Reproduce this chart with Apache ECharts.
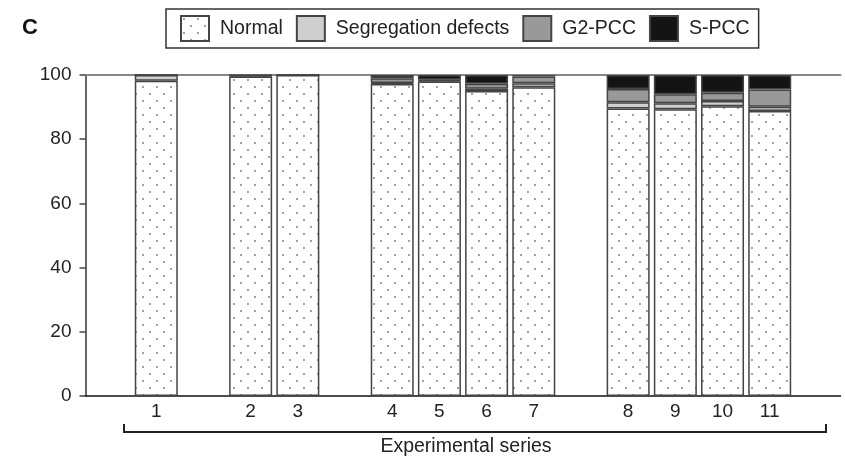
<!DOCTYPE html>
<html><head><meta charset="utf-8">
<script src="https://cdn.jsdelivr.net/npm/echarts@6/dist/echarts.min.js"></script>
<style>html,body{margin:0;padding:0;background:#fff}#c{width:845px;height:459px}</style>
</head><body><div id="c"></div>
<script>
var categories = ['', '1', '', '2', '3', '', '4', '5', '6', '7', '', '8', '9', '10', '11', ''];
var normal = [null, 98.2, null, 99.5, 100, null, 97.2, 98.0, 95.0, 96.2, null, 89.6, 89.3, 90.3, 88.8, null];
var segregation = [null, 1.8, null, 0.3, 0, null, 0.3, 0.3, 0.7, 1.2, null, 1.9, 1.9, 1.6, 1.3, null];
var g2pcc = [null, 0, null, 0.1, 0, null, 1.5, 0.2, 1.6, 2.1, null, 4.1, 2.8, 2.6, 5.4, null];
var spcc = [null, 0, null, 0.1, 0, null, 1.0, 1.5, 2.7, 0.5, null, 4.4, 6.0, 5.5, 4.5, null];
var yTicks = [0, 20, 40, 60, 80, 100];

var pc = document.createElement('canvas');
pc.width = 14; pc.height = 14;
var ctx = pc.getContext('2d');
ctx.fillStyle = '#fff'; ctx.fillRect(0, 0, 14, 14);
ctx.fillStyle = '#777';
ctx.beginPath(); ctx.arc(3, 3, 0.9, 0, Math.PI * 2); ctx.fill();
ctx.beginPath(); ctx.arc(10, 10, 0.9, 0, Math.PI * 2); ctx.fill();
var dotPattern = { image: pc, repeat: 'repeat' };

var chart = echarts.init(document.getElementById('c'), null, { renderer: 'canvas' });
var font = 'Liberation Sans, Arial, Helvetica, sans-serif';
function mk(name, data, color) {
  return {
    name: name, type: 'bar', stack: 'all', data: data,
    barWidth: 43,
    itemStyle: { color: color, borderColor: '#444', borderWidth: 1.5 },
    emphasis: { disabled: true },
    animation: false
  };
}
chart.setOption({
  animation: false,
  title: { text: 'C', left: 22, top: 17, padding: 0, textStyle: { fontFamily: font, fontSize: 22, fontWeight: 'bold', color: '#111' } },
  legend: {
    left: 166, top: 9,
    padding: [6, 9, 6, 14],
    borderColor: '#333', borderWidth: 1.5,
    itemWidth: 28, itemHeight: 25, itemGap: 13,
    icon: 'rect',
    textStyle: { fontFamily: font, fontSize: 19.5, color: '#222', padding: [0, 0, 0, 6] },
    data: ['Normal', 'Segregation defects', 'G2-PCC', 'S-PCC']
  },
  grid: { left: 85.5, right: 4.5, top: 75, bottom: 63, containLabel: false },
  xAxis: [{
    type: 'category', data: categories, position: 'bottom',
    axisLine: { lineStyle: { color: '#111', width: 1.5 } },
    axisTick: { show: false },
    axisLabel: { fontFamily: font, fontSize: 19, color: '#222', margin: 6 }
  }, {
    type: 'category', data: categories, position: 'top',
    axisLine: { show: true, lineStyle: { color: '#888', width: 2 } },
    axisTick: { show: false }, axisLabel: { show: false }
  }],
  yAxis: {
    type: 'value', min: 0, max: 100, interval: 20,
    axisLine: { show: true, lineStyle: { color: '#666', width: 2 } },
    axisTick: { show: true, length: 6, lineStyle: { color: '#444', width: 1.5 } },
    splitLine: { show: false },
    axisLabel: { fontFamily: font, fontSize: 19, color: '#222', margin: 14,
      formatter: function (v) { return yTicks.indexOf(v) >= 0 ? String(v) : ''; } }
  },
  graphic: [
    { type: 'polyline', shape: { points: [[124, 424], [124, 432], [826, 432], [826, 424]] },
      style: { stroke: '#222', lineWidth: 2, fill: null } },
    { type: 'text', x: 466, y: 447, style: { text: 'Experimental series', fontFamily: font, fontSize: 19.5, fill: '#222', align: 'center', verticalAlign: 'middle' } }
  ],
  series: [
    mk('Normal', normal, dotPattern),
    mk('Segregation defects', segregation, '#cfcfcf'),
    mk('G2-PCC', g2pcc, '#999999'),
    mk('S-PCC', spcc, '#141414')
  ]
});
</script></body></html>
